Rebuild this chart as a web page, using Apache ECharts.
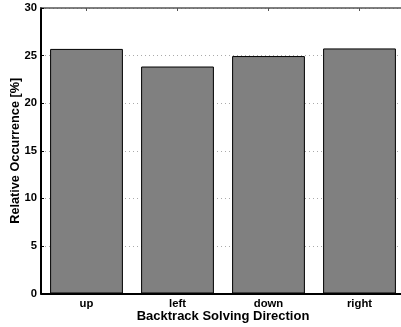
<!DOCTYPE html>
<html><head><meta charset="utf-8">
<script src="https://cdn.jsdelivr.net/npm/echarts@6/dist/echarts.min.js"></script>
<style>html,body{margin:0;padding:0;background:#fff}#c{width:401px;height:327px}</style>
</head><body><div id="c"></div>
<script>
var categories = ['up', 'left', 'down', 'right'];
var occurrence = [25.7, 23.85, 24.95, 25.75];
var yTicks = [0, 5, 10, 15, 20, 25, 30];

var font = 'Liberation Sans';
var chart = echarts.init(document.getElementById('c'), null, {renderer: 'canvas'});
chart.setOption({
  animation: false,
  grid: {left: 41, right: -4, top: 8, bottom: 33.5, containLabel: false, outerBoundsMode: 'none'},
  xAxis: [{
    type: 'category', data: categories, position: 'bottom',
    name: 'Backtrack Solving Direction', nameLocation: 'middle', nameGap: 16, nameMoveOverlap: false,
    nameTextStyle: {fontFamily: font, fontWeight: 'bold', fontSize: 13, color: '#000'},
    axisLine: {onZero: false, lineStyle: {color: '#000', width: 2}},
    axisTick: {show: true, inside: true, alignWithLabel: true, length: 3, lineStyle: {color: '#000'}},
    axisLabel: {fontFamily: font, fontWeight: 'bold', fontSize: 11.3, color: '#000', margin: 5},
    splitLine: {show: false}
  }, {
    type: 'category', data: categories, position: 'top',
    axisLine: {show: true, onZero: false, lineStyle: {color: '#555', width: 1.5}},
    axisTick: {show: true, inside: true, alignWithLabel: true, length: 3, lineStyle: {color: '#555'}},
    axisLabel: {show: false}, splitLine: {show: false}
  }],
  yAxis: [{
    type: 'value', min: 0, max: 30, interval: 5, position: 'left',
    name: 'Relative Occurrence [%]', nameLocation: 'middle', nameGap: 19, nameMoveOverlap: false,
    nameTextStyle: {fontFamily: font, fontWeight: 'bold', fontSize: 12.7, color: '#000'},
    axisLine: {show: true, onZero: false, lineStyle: {color: '#000', width: 2}},
    axisTick: {show: true, inside: true, length: 3, lineStyle: {color: '#000'}},
    axisLabel: {fontFamily: font, fontWeight: 'bold', fontSize: 11.3, color: '#000', margin: 4,
      formatter: function (v) { return yTicks.indexOf(v) >= 0 ? String(v) : ''; }},
    splitLine: {show: true, lineStyle: {color: '#aaa', type: [1, 3], width: 1}}
  }, {
    type: 'value', min: 0, max: 30, interval: 5, position: 'right',
    axisLine: {show: true, onZero: false, lineStyle: {color: '#555'}},
    axisTick: {show: true, inside: true, length: 3},
    axisLabel: {show: false}, splitLine: {show: false}
  }],
  series: [{
    type: 'bar', data: occurrence, xAxisIndex: 0, yAxisIndex: 0,
    barCategoryGap: '20%',
    itemStyle: {color: '#808080', borderColor: '#000', borderWidth: 1}
  }]
});
</script></body></html>
